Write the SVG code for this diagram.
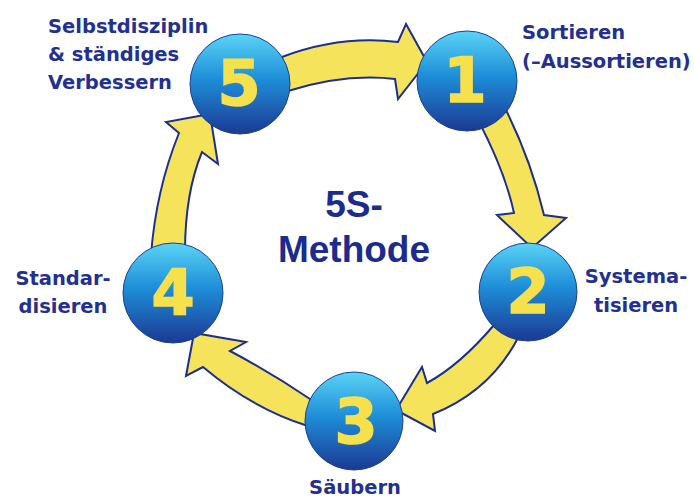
<svg xmlns="http://www.w3.org/2000/svg" width="694" height="499" viewBox="0 0 694 499">
<defs>
<linearGradient id="ball" x1="0" y1="0" x2="0" y2="1">
<stop offset="0" stop-color="#5ad4f6"/>
<stop offset="0.45" stop-color="#1e8ed8"/>
<stop offset="1" stop-color="#1b3993"/>
</linearGradient>
</defs>
<style>
.arrow{fill:#f6e35c;stroke:#1c2f8c;stroke-width:2;stroke-linejoin:miter}
.ball{fill:url(#ball);stroke:#1d3f94;stroke-width:1}
.num{font-family:"DejaVu Sans","Liberation Sans",sans-serif;font-weight:bold;font-size:62px;fill:#f6e04c;stroke:#f6e04c;stroke-width:1.5;text-anchor:middle}
.lbl{font-family:"DejaVu Sans",Verdana,sans-serif;font-weight:bold;font-size:19.5px;fill:#23308f}
.title{font-family:"Liberation Sans",Arial,sans-serif;font-weight:bold;font-size:37px;fill:#1c2b8e;text-anchor:middle}
</style>
<rect width="694" height="499" fill="#ffffff"/>
<g id="connectors">
<path class="arrow" d="M282,57 Q340,35 398,42 L406,24 L427,62 L398,99 L395,79 Q345,73 288,91 Z"/>
<path class="arrow" d="M477,118 Q505,171 514,213 L497,215 L532,248 L566,218 L544,215 Q531,160 505,108 Z"/>
<path class="arrow" d="M519,336 Q491,391 433,414 L435,431 L396,410 L422,367 L427,383 Q460,365 494,325 Z"/>
<path class="arrow" d="M310,399 Q270,372 230,351 L246,342 L194,333 L186,376 L203,367 Q253,409 308,426 Z"/>
<path class="arrow" d="M151,255 Q156,190 179,133 L166,122 L210,114 L218,164 L202,152 Q185,193 185,252 Z"/>
</g>
<g id="node5">
<circle class="ball" cx="240" cy="84" r="50"/>
<text class="num" x="239" y="105">5</text>
<text class="lbl" x="48" y="33">Selbstdisziplin</text>
<text class="lbl" x="48" y="61">&amp; ständiges</text>
<text class="lbl" x="48" y="89">Verbessern</text>
</g>
<g id="node1">
<circle class="ball" cx="467" cy="81" r="50"/>
<text class="num" x="465" y="102">1</text>
<text class="lbl" x="522" y="39">Sortieren</text>
<text class="lbl" x="522" y="68">(–Aussortieren)</text>
</g>
<g id="node2">
<circle class="ball" cx="528" cy="292" r="49"/>
<text class="num" x="528" y="313">2</text>
<text class="lbl" x="636" y="283" text-anchor="middle">Systema-</text>
<text class="lbl" x="636" y="312" text-anchor="middle">tisieren</text>
</g>
<g id="node3">
<circle class="ball" cx="354" cy="421" r="49"/>
<text class="num" x="356" y="443">3</text>
<text class="lbl" x="355" y="494" text-anchor="middle">Säubern</text>
</g>
<g id="node4">
<circle class="ball" cx="173" cy="293" r="50"/>
<text class="num" x="173" y="314">4</text>
<text class="lbl" x="63" y="285" text-anchor="middle">Standar-</text>
<text class="lbl" x="63" y="313" text-anchor="middle">disieren</text>
</g>
<g id="center">
<text class="title" x="354" y="217">5S-</text>
<text class="title" x="354" y="262">Methode</text>
</g>
</svg>
